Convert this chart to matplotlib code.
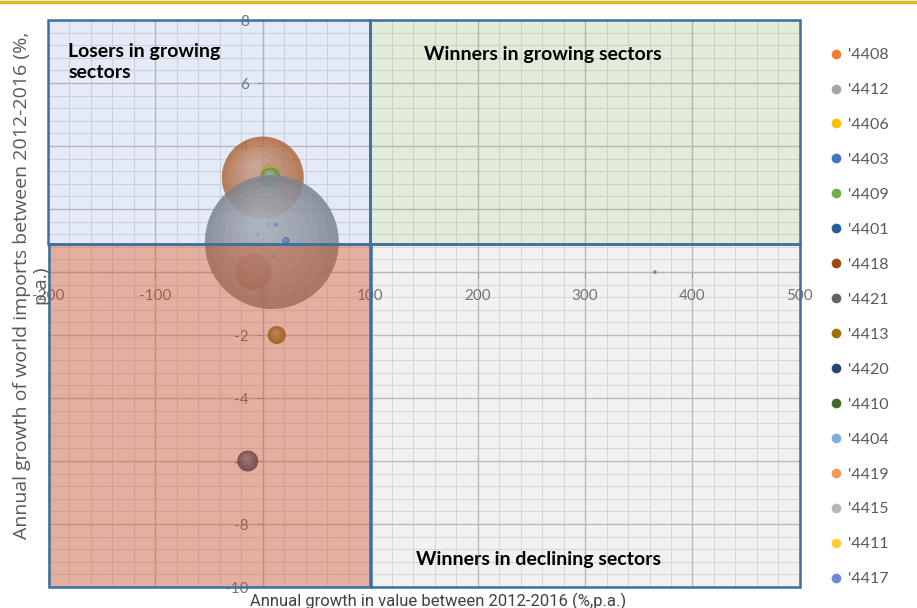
import matplotlib
matplotlib.use('Agg')
import matplotlib.pyplot as plt
import matplotlib.patches as mpatches
import matplotlib.transforms as mtransforms
from matplotlib.lines import Line2D
import matplotlib.colors as mcolors
import numpy as np

plt.rcParams['axes.unicode_minus'] = False
plt.rcParams['font.family'] = ['Lato', 'DejaVu Sans']

# Product codes (HS 4 digit) and their positions
codes = ["'4408", "'4412", "'4406", "'4403", "'4409", "'4401", "'4418", "'4421",
         "'4413", "'4420", "'4410", "'4404", "'4419", "'4415", "'4411", "'4417"]
value_growth = [0, 8.4, 7, 21.5, 7, 5, -9, 365, 13, -14, 3, 10, -8, -5, 6, 12]
import_growth = [3.0, 0.95, 3.15, 1.0, 3.0, 1.5, 0.0, 0.0, -2.0, -6.0, 2.0, 0.5, 0.0, 1.2, 2.5, 1.5]
bubble_size = [1680, 4490, 81, 12, 100, 6, 324, 3, 81, 110, 4, 4, 5, 4, 4, 4]

colors = ['#ED7D31', '#A5A5A5', '#FFC000', '#4472C4', '#70AD47', '#255E91', '#9E480E', '#636363',
          '#997300', '#264478', '#43682B', '#7CAFDD', '#F1975A', '#B7B7B7', '#FFCD33', '#698ED0']

# which bubble sits on top of which
draw_order = [0, 2, 4, 6, 5, 10, 14, 1, 3, 7, 8, 9, 11, 12, 13, 15]

x_major = np.arange(-200, 501, 100)
y_major = np.arange(-10, 9, 2)
x_minor = np.arange(-200, 501, 20)
y_minor = np.arange(-10, 8.01, 0.4)

fig = plt.figure(figsize=(9.17, 6.08), dpi=100)
ax = fig.add_axes([0.0523, 0.0345, 0.820, 0.9326])

ax.set_xlim(-200, 500)
ax.set_ylim(-10, 8)
ax.set_xticks(x_major)
ax.set_yticks(y_major)

# grid drawn by hand so it stays under the tick labels
for v in x_minor:
    ax.axvline(v, color='#E2E2E2', lw=0.8, zorder=1)
for v in y_minor:
    ax.axhline(v, color='#E2E2E2', lw=0.8, zorder=1)
for v in x_major:
    ax.axvline(v, color='#C4C4C4', lw=1.0, zorder=1.1)
for v in y_major:
    ax.axhline(v, color='#C4C4C4', lw=1.0, zorder=1.1)

ax.tick_params(which='major', colors='#A0A0A0', labelcolor='#737373', labelsize=11, length=4)
ax.tick_params(axis='x', pad=8)
ax.tick_params(axis='y', pad=6)

ax.spines['left'].set_position(('data', 0))
ax.spines['bottom'].set_position(('data', 0))
ax.spines['right'].set_visible(False)
ax.spines['top'].set_visible(False)
ax.spines['left'].set_color('#BFBFBF')
ax.spines['bottom'].set_color('#BFBFBF')

# bubbles with a simple sphere-like highlight
for n, i in enumerate(draw_order):
    x, y, sz, c = value_growth[i], import_growth[i], bubble_size[i], colors[i]
    z = 3 + n * 0.01
    s = sz * 2.07
    r_pt = np.sqrt(s) / 2
    base = np.array(mcolors.to_rgb(c)) * 0.82
    ax.scatter(x, y, s=s, color=base, alpha=0.85, edgecolors='none', zorder=z)
    for k in range(1, 8):
        f = 1 - k / 8
        tr = mtransforms.offset_copy(ax.transData, fig=fig, x=-0.2 * r_pt * (1 - f),
                                     y=0.3 * r_pt * (1 - f), units='points')
        ax.scatter(x, y, s=s * f ** 2, color='white', alpha=0.07, edgecolors='none',
                   zorder=z, transform=tr)

# quadrant boxes
split_x = 100
split_y = 0.9
box_edge = '#3F6F9C'
quads = [
    ((-200, split_y), split_x + 200, 8 - split_y, '#527AC3', 0.15),
    ((split_x, split_y), 500 - split_x, 8 - split_y, '#73A046', 0.2),
    ((-199, -10), split_x + 199, split_y + 10, '#C34F2C', 0.45),
    ((split_x + 1, -10), 500 - split_x - 1, split_y + 10, '#7D7D7D', 0.1),
]
for (x0, y0), w, h, fc, a in quads:
    ax.add_patch(mpatches.Rectangle((x0, y0), w, h, facecolor=fc, alpha=a,
                                    edgecolor='none', zorder=4))
    ax.add_patch(mpatches.Rectangle((x0, y0), w, h, facecolor='none',
                                    edgecolor=box_edge, lw=1.8, zorder=5, clip_on=False))

ax.text(-181, 6.67, 'Losers in growing\nsectors', fontsize=14, fontweight='bold',
        va='center', ha='left', zorder=6, linespacing=1.3)
ax.text(261, 6.89, 'Winners in growing sectors', fontsize=14, fontweight='bold',
        va='center', ha='center', zorder=6)
ax.text(257, -9.14, 'Winners in declining sectors', fontsize=14, fontweight='bold',
        va='center', ha='center', zorder=6)

fig.text(31 / 917, 1 - 285 / 608, 'Annual growth of world imports between 2012-2016 (%,\np.a.)',
         rotation=90, ha='center', va='center', fontsize=14, color='#595959',
         family=['Open Sans', 'DejaVu Sans'], multialignment='center', linespacing=1.0)
fig.text(438 / 917, 1 - 601 / 608, 'Annual growth in value between 2012-2016 (%,p.a.)',
         ha='center', va='center', fontsize=12, color='#404040', family=['Roboto', 'DejaVu Sans'])

# gold line at top
fig.add_artist(Line2D([0, 1], [0.997, 0.997], color='#E0B92B', lw=2.5, transform=fig.transFigure))

handles = [Line2D([], [], marker='o', ls='', markersize=7, markerfacecolor=c,
                  markeredgecolor='none') for c in colors]
leg = fig.legend(handles, codes, loc='upper left', bbox_to_anchor=(822 / 917, 1 - 40 / 608),
                 frameon=False, fontsize=11.5, labelspacing=1.3, handlelength=0.8,
                 handletextpad=0.3, borderpad=0)
for t in leg.get_texts():
    t.set_color('#595959')

fig.savefig('out.png', dpi=100)
